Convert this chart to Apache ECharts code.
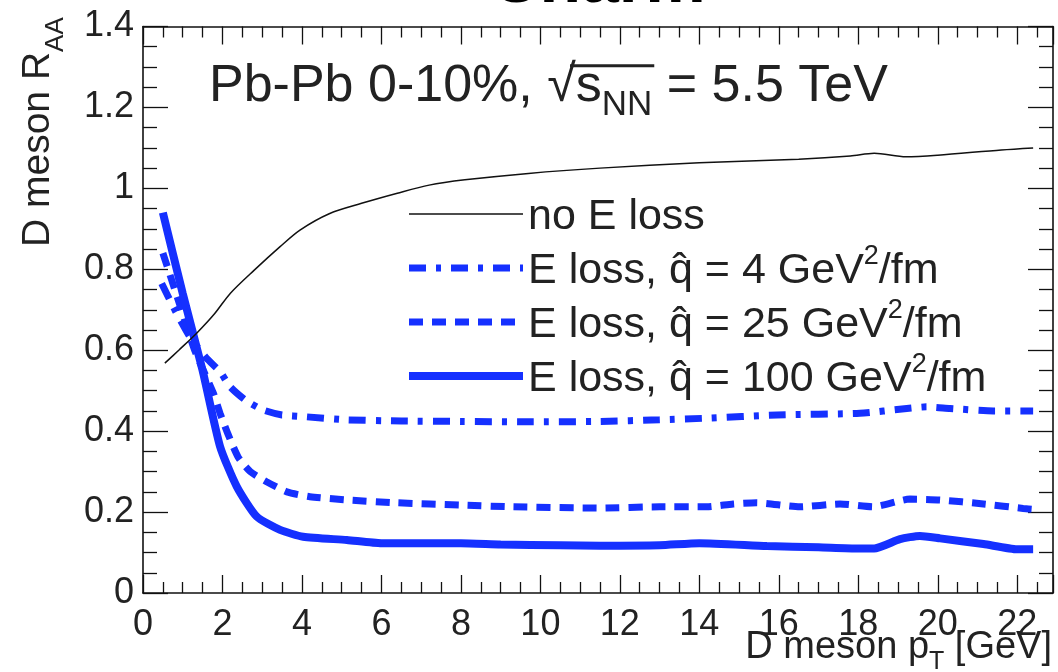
<!DOCTYPE html>
<html><head><meta charset="utf-8">
<script src="https://cdn.jsdelivr.net/npm/echarts@6/dist/echarts.min.js"></script>
<style>html,body{margin:0;padding:0;background:#fff}#c{width:1058px;height:672px}</style>
</head><body><div id="c"></div>
<script>
// ---- data ----
const qhatValues = [4, 25, 100];
const xTickLabels = [0, 2, 4, 6, 8, 10, 12, 14, 16, 18, 20, 22];
const yTickLabels = [0, 0.2, 0.4, 0.6, 0.8, 1, 1.2, 1.4];

const xNoLoss = [0.55, 0.9, 1.35, 1.8, 2.2, 2.8, 3.45, 3.95, 4.7, 5.5, 6.4, 7.2, 8.1, 9.7, 11.5, 14.0, 16.5, 17.8, 18.4, 19.2, 20.0, 21.6, 22.4];
const yNoLoss = [0.568, 0.60, 0.642, 0.69, 0.741, 0.798, 0.856, 0.897, 0.938, 0.963, 0.988, 1.008, 1.021, 1.037, 1.050, 1.063, 1.072, 1.080, 1.087, 1.078, 1.082, 1.095, 1.100];

const xQ4 = [0.47, 0.8, 1.2, 1.6, 1.94, 2.19, 2.6, 3.03, 3.5, 4.03, 5.13, 6.5, 8.0, 9.7, 11.5, 13.0, 14.18, 15.95, 18.04, 19.22, 19.72, 20.31, 21.4, 22.4];
const yQ4 = [0.765, 0.70, 0.63, 0.58, 0.547, 0.51, 0.475, 0.452, 0.44, 0.436, 0.428, 0.425, 0.424, 0.423, 0.424, 0.428, 0.432, 0.44, 0.444, 0.456, 0.46, 0.456, 0.45, 0.45];

const xQ25 = [0.5, 0.9, 1.3, 1.77, 1.94, 2.15, 2.4, 2.7, 3.11, 3.62, 4.2, 5.13, 6.38, 8.06, 9.3, 11.5, 13.0, 14.18, 14.85, 15.44, 16.53, 17.54, 18.38, 19.3, 20.06, 21.15, 22.15, 22.4];
const yQ25 = [0.84, 0.72, 0.60, 0.494, 0.444, 0.39, 0.335, 0.30, 0.275, 0.25, 0.238, 0.23, 0.223, 0.217, 0.213, 0.21, 0.213, 0.213, 0.22, 0.223, 0.213, 0.22, 0.213, 0.232, 0.23, 0.22, 0.209, 0.207];

const xQ100 = [0.5, 1.0, 1.5, 1.94, 2.36, 2.86, 3.45, 4.03, 5.13, 6.0, 8.0, 9.0, 10.5, 11.5, 13.0, 14.0, 15.7, 17.0, 18.0, 18.4, 19.05, 19.55, 20.06, 21.15, 22.0, 22.4];
const yQ100 = [0.94, 0.74, 0.55, 0.362, 0.263, 0.189, 0.156, 0.139, 0.131, 0.123, 0.123, 0.12, 0.118, 0.117, 0.118, 0.123, 0.116, 0.113, 0.110, 0.110, 0.133, 0.141, 0.135, 0.121, 0.108, 0.108];

const seriesNames = ['no E loss'].concat(qhatValues.map(q => 'E loss, q\u0302 = ' + q + ' GeV\u00b2/fm'));

// ---- chart ----
const FONT = 'Liberation Sans, Arial, Helvetica, sans-serif';
const BLUE = '#1530ff';
const INK = '#222';
const pairs = (xs, ys) => xs.map((x, i) => [x, ys[i]]);

// annotation text geometry (used to place the square-root bar)
const ANN_LEFT = 209, ANN_TOP = 61, ANN_SIZE = 52, ANN_SUB = 35, ANN_LH = 62;
const mctx = document.createElement('canvas').getContext('2d');
function textW(t, size) { mctx.font = size + 'px ' + FONT; return mctx.measureText(t).width; }
mctx.font = ANN_SIZE + 'px ' + FONT; mctx.textBaseline = 'middle';
const rootAscent = mctx.measureText('\u221a').actualBoundingBoxAscent || 30;
const prefixW = textW('Pb-Pb 0-10%, ', ANN_SIZE);
const rootW = textW('\u221a', ANN_SIZE);
const sW = textW('s', ANN_SIZE);
const nnW = textW('NN', ANN_SUB);
const barY = ANN_TOP + ANN_LH / 2 - rootAscent + 1.5;
const barX1 = ANN_LEFT + prefixW + rootW * 0.8;
const barX2 = ANN_LEFT + prefixW + rootW + sW + nnW + 2;

const chart = echarts.init(document.getElementById('c'), null, {renderer: 'canvas'});

const axisCommon = {
  axisLine: {show: true, onZero: false, lineStyle: {color: '#111', width: 1.6}},
  splitLine: {show: false},
  axisTick: {show: true, inside: true, lineStyle: {color: '#111', width: 1.3}},
  minorTick: {show: true, splitNumber: 4, lineStyle: {color: '#111', width: 1.3}}
};

function xAxisDef(pos, showLabel) {
  return Object.assign({}, axisCommon, {
    type: 'value', position: pos, min: 0, max: 22.9, interval: 2,
    axisTick: Object.assign({}, axisCommon.axisTick, {length: 18}),
    minorTick: Object.assign({}, axisCommon.minorTick, {length: 11}),
    axisLabel: {show: showLabel, showMaxLabel: false, fontFamily: FONT, fontSize: 36, color: INK, margin: 14,
      formatter: v => (xTickLabels.indexOf(v) >= 0 ? String(v) : '')}
  });
}
function yAxisDef(pos, showLabel) {
  return Object.assign({}, axisCommon, {
    type: 'value', position: pos, min: 0, max: 1.4, interval: 0.2,
    axisTick: Object.assign({}, axisCommon.axisTick, {length: 25}),
    minorTick: Object.assign({}, axisCommon.minorTick, {length: 14}),
    axisLabel: {show: showLabel, fontFamily: FONT, fontSize: 36, color: INK, margin: 9,
      formatter: v => String(yTickLabels.find(t => Math.abs(t - v) < 1e-6))}
  });
}

const legendRich = {
  t: {fontFamily: FONT, fontSize: 43, color: INK, lineHeight: 50, verticalAlign: 'bottom'},
  s: {fontFamily: FONT, fontSize: 27, color: INK, lineHeight: 27, verticalAlign: 'top'}
};

const option = {
  animation: false,
  backgroundColor: '#fff',
  grid: {left: 143, right: 5, top: 26.5, bottom: 79, containLabel: false},
  xAxis: [xAxisDef('bottom', true), xAxisDef('top', false)],
  yAxis: [yAxisDef('left', true), yAxisDef('right', false)],
  title: [{
    text: '{a|Pb-Pb 0-10%, \u221a}{a|s}{b|NN}{a| = 5.5 TeV}',
    left: ANN_LEFT, top: ANN_TOP, padding: 0,
    textStyle: {
      fontWeight: 'normal',
      rich: {
        a: {fontFamily: FONT, fontSize: ANN_SIZE, fontWeight: 'normal', color: INK, lineHeight: ANN_LH, verticalAlign: 'top'},
        b: {fontFamily: FONT, fontSize: ANN_SUB, fontWeight: 'normal', color: INK, lineHeight: ANN_SUB, verticalAlign: 'bottom'}
      }
    }
  }],
  legend: {
    orient: 'vertical', left: 405, top: 196, padding: 0,
    itemWidth: 114, itemHeight: 14, itemGap: 4,
    data: seriesNames,
    textStyle: {fontFamily: FONT, fontSize: 43, color: INK, rich: legendRich},
    itemStyle: {opacity: 0},
    lineStyle: {width: 'inherit', type: 'inherit', color: 'inherit'},
    formatter: name => {
      if (name.indexOf('\u00b2') < 0) return '{t|' + name + '}';
      const parts = name.split('\u00b2');
      return '{t|' + parts[0] + '}{s|2}{t|' + parts[1] + '}';
    }
  },
  graphic: [
    {type: 'text', x: 598, y: -17, silent: true,
      style: {text: 'Charm', fontFamily: FONT, fontSize: 68, fontWeight: 'bold', fill: '#000', align: 'center', verticalAlign: 'middle'}},
    {type: 'text', x: 44, y: 247, rotation: Math.PI / 2, silent: true,
      style: {text: '{a|D meson R}{b|AA}', align: 'left', verticalAlign: 'middle',
        rich: {
          a: {fontFamily: FONT, fontSize: 39, fill: INK, lineHeight: 50, verticalAlign: 'top'},
          b: {fontFamily: FONT, fontSize: 26, fill: INK, lineHeight: 26, verticalAlign: 'bottom'}
        }}},
    {type: 'text', x: 1052, y: 652, silent: true,
      style: {text: '{a|D meson p}{b|T}{a| [GeV]}', align: 'right', verticalAlign: 'middle',
        rich: {
          a: {fontFamily: FONT, fontSize: 38, fill: INK, lineHeight: 46, verticalAlign: 'top'},
          b: {fontFamily: FONT, fontSize: 25, fill: INK, lineHeight: 25, verticalAlign: 'bottom'}
        }}},
    {type: 'line', silent: true, shape: {x1: barX1, y1: barY, x2: barX2, y2: barY}, style: {stroke: INK, lineWidth: 3}}
  ],
  series: [
    {name: seriesNames[0], type: 'line', data: pairs(xNoLoss, yNoLoss), showSymbol: false, symbol: 'none', smooth: 0.3,
      lineStyle: {color: '#111', width: 1.5}, itemStyle: {color: '#111'}, z: 5},
    {name: seriesNames[1], type: 'line', data: pairs(xQ4, yQ4), showSymbol: false, symbol: 'none', smooth: 0.2,
      lineStyle: {color: BLUE, width: 7, type: [17, 10, 5, 10], cap: 'butt'}, itemStyle: {color: BLUE}, z: 3},
    {name: seriesNames[2], type: 'line', data: pairs(xQ25, yQ25), showSymbol: false, symbol: 'none', smooth: 0.2,
      lineStyle: {color: BLUE, width: 7, type: [14, 9], cap: 'butt'}, itemStyle: {color: BLUE}, z: 3},
    {name: seriesNames[3], type: 'line', data: pairs(xQ100, yQ100), showSymbol: false, symbol: 'none', smooth: 0.2,
      lineStyle: {color: BLUE, width: 8}, itemStyle: {color: BLUE}, z: 4}
  ]
};
chart.setOption(option);
</script>
</body></html>
